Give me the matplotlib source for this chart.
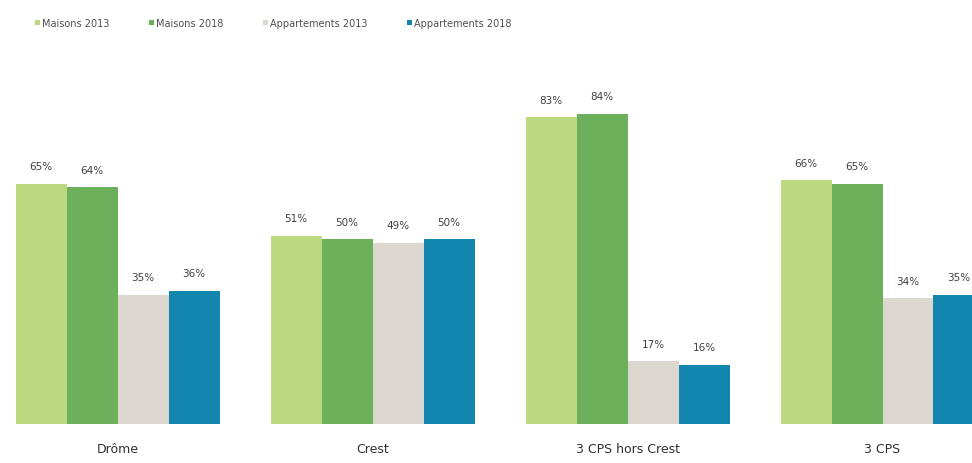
import matplotlib
matplotlib.use("Agg")
import matplotlib.pyplot as plt
import numpy as np

# Données
categories = ["Drôme", "Crest", "3 CPS hors Crest", "3 CPS"]
series = ["Maisons 2013", "Maisons 2018", "Appartements 2013", "Appartements 2018"]
maisons_2013 = [65, 51, 83, 66]
maisons_2018 = [64, 50, 84, 65]
apparts_2013 = [35, 49, 17, 34]
apparts_2018 = [36, 50, 16, 35]
couleurs = ["#BDD97F", "#6DB05B", "#DDD8CF", "#1386B0"]

valeurs = [maisons_2013, maisons_2018, apparts_2013, apparts_2018]

plt.rcParams["font.family"] = ["DejaVu Sans"]
fig = plt.figure(figsize=(9.72, 4.64), dpi=100)
ax = fig.add_axes([0, 39 / 464, 1, 425 / 464])

x = np.arange(len(categories))
largeur = 0.2
handles = []
for i, (nom, vals, c) in enumerate(zip(series, valeurs, couleurs)):
    pos = x + (i - 1.5) * largeur
    b = ax.bar(pos, vals, width=largeur, color=c, label=nom)
    handles.append(b)
    for p, v in zip(pos, vals):
        ax.text(p, v + 3.4, f"{v}%", ha="center", va="bottom",
                fontsize=7.5, color="#404040")

ax.set_xlim(-0.461, 3.351)
ax.set_ylim(0, 115)
ax.axis("off")

for xi, cat in zip(x, categories):
    ax.text(xi, -6.6, cat, ha="center", va="center", fontsize=9,
            color="#303030", clip_on=False)

fig.legend(handles=handles, loc="center left", ncol=4,
           bbox_to_anchor=(0.027, 1 - 24 / 464), frameon=False,
           fontsize=7, handlelength=0.5, handleheight=0.5,
           handletextpad=0.2, columnspacing=4.1, labelcolor="#505050")

fig.savefig("out.png", dpi=100)
